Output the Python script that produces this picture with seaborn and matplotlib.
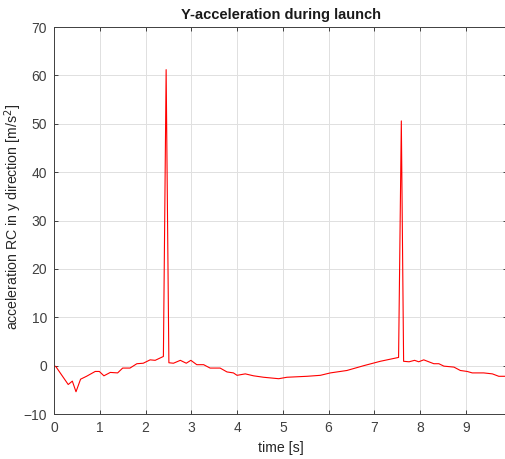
import numpy as np
import pandas as pd
import matplotlib
matplotlib.use("Agg")
import matplotlib.pyplot as plt
import seaborn as sns

time_s = [0.0, 0.04, 0.31, 0.40, 0.48, 0.58, 0.71, 0.90, 0.99, 1.09, 1.23, 1.39, 1.50, 1.66,
          1.81, 1.95, 2.10, 2.21, 2.39, 2.45, 2.51, 2.61, 2.76, 2.89, 2.99, 3.12, 3.27,
          3.41, 3.63, 3.78, 3.92, 4.00, 4.18, 4.36, 4.58, 4.91, 5.09, 5.53, 5.82, 6.04,
          6.40, 6.77, 7.13, 7.53, 7.59, 7.64, 7.76, 7.88, 7.97, 8.08, 8.19, 8.30, 8.41,
          8.52, 8.74, 8.88, 9.03, 9.14, 9.39, 9.58, 9.72, 9.87]
accel_y = [0.0, -0.2, -3.9, -3.2, -5.4, -2.8, -2.2, -1.2, -1.2, -2.1, -1.4, -1.5, -0.5, -0.5,
           0.4, 0.5, 1.2, 1.1, 1.9, 61.2, 0.6, 0.5, 1.1, 0.5, 1.1, 0.2, 0.2,
           -0.5, -0.5, -1.3, -1.5, -2.0, -1.7, -2.1, -2.4, -2.7, -2.4, -2.2, -2.0, -1.5,
           -1.0, 0.0, 0.9, 1.7, 50.6, 0.9, 0.8, 1.1, 0.8, 1.2, 0.8, 0.4, 0.4,
           -0.1, -0.3, -1.0, -1.2, -1.5, -1.5, -1.7, -2.2, -2.2]
x_ticks = list(range(0, 10))
y_ticks = list(range(-10, 71, 10))

df = pd.DataFrame({"t": time_s, "a": accel_y})

sns.set_theme(style="whitegrid")
plt.rcParams["font.family"] = ["Liberation Sans", "DejaVu Sans"]

fig = plt.figure(figsize=(5.05, 4.59), dpi=100)
ax = fig.add_axes([0.107, 0.098, 0.897, 0.843])
sns.lineplot(data=df, x="t", y="a", ax=ax, color="#ff0000", linewidth=0.8, sort=False)

ax.set_xlim(0, 9.90)
ax.set_ylim(-10, 70)
ax.set_xticks(x_ticks)
ax.set_yticks(y_ticks)
ax.grid(True, color="#e0e0e0", linewidth=0.7)
for s in ax.spines.values():
    s.set_visible(True)
    s.set_color("#404040")
    s.set_linewidth(0.7)
ax.tick_params(axis="both", labelsize=10, colors="#404040", length=3, width=0.7,
               direction="in", pad=5, left=True, bottom=True, top=True, right=True)
ax.set_title("Y-acceleration during launch", fontsize=10.5, fontweight="bold", pad=6,
             color="#1a1a1a")
ax.set_xlabel("time [s]", fontsize=10.2, color="#262626")
ax.set_ylabel("acceleration RC in y direction [m/s$^2$]", fontsize=10.2, color="#262626")
ax.xaxis.set_label_coords(0.5, -0.07)
ax.yaxis.set_label_coords(-0.066, 0.51)

fig.savefig("out.png", dpi=100, facecolor="white")
